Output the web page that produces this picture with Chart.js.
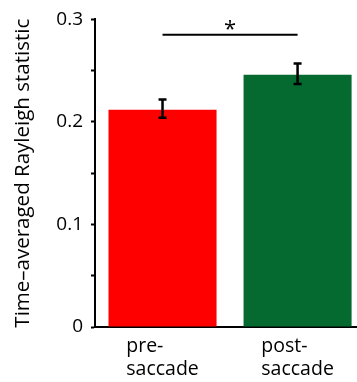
<!DOCTYPE html>
<html>
<head>
<meta charset="utf-8">
<script src="https://cdn.jsdelivr.net/npm/chart.js@4.4.1/dist/chart.umd.min.js"></script>
<style>
  html, body { margin: 0; padding: 0; background: #fff; }
</style>
</head>
<body>
<canvas id="chart" width="357" height="382"></canvas>
<script>
// data
const categories = [['pre-', 'saccade'], ['post-', 'saccade']];
const means = [0.212, 0.246];
const errLow = [0.204, 0.237];
const errHigh = [0.222, 0.257];
const barColors = ['#ff0000', '#046a2f'];
const yTickValues = [0, 0.05, 0.1, 0.15, 0.2, 0.25, 0.3];
const yTickLabels = ['0', '', '0.1', '', '0.2', '', '0.3'];
const sigPair = [0, 1];
const sigLevel = 0.285;
const sigMark = '*';

const FONT = '"Open Sans", sans-serif';
Chart.defaults.font.family = FONT;
Chart.defaults.font.size = 19;
Chart.defaults.color = '#000';

// error bars, significance bracket and the two-line category labels
const extras = {
    id: 'extras',
    afterDatasetsDraw(chart) {
        const ctx = chart.ctx;
        const x = chart.scales.x;
        const y = chart.scales.y;
        ctx.save();
        ctx.strokeStyle = '#000';
        ctx.lineWidth = 2.5;
        means.forEach((m, i) => {
            const px = x.getPixelForValue(i + 1);
            const top = y.getPixelForValue(errHigh[i]);
            const bot = y.getPixelForValue(errLow[i]);
            ctx.beginPath();
            ctx.moveTo(px, top);
            ctx.lineTo(px, bot);
            ctx.moveTo(px - 4, top);
            ctx.lineTo(px + 4, top);
            ctx.moveTo(px - 4, bot);
            ctx.lineTo(px + 4, bot);
            ctx.stroke();
        });

        const x1 = x.getPixelForValue(sigPair[0] + 1);
        const x2 = x.getPixelForValue(sigPair[1] + 1);
        const sy = y.getPixelForValue(sigLevel);
        ctx.lineWidth = 2;
        ctx.beginPath();
        ctx.moveTo(x1, sy);
        ctx.lineTo(x2, sy);
        ctx.stroke();
        ctx.fillStyle = '#000';
        ctx.font = '22px ' + FONT;
        ctx.textAlign = 'center';
        ctx.textBaseline = 'alphabetic';
        ctx.fillText(sigMark, (x1 + x2) / 2, sy + 1);

        ctx.font = '19.5px ' + FONT;
        ctx.textAlign = 'left';
        categories.forEach((lines, i) => {
            const px = x.getPixelForValue(i + 1);
            const w = Math.max(...lines.map(l => ctx.measureText(l).width));
            lines.forEach((l, j) => {
                ctx.fillText(l, px - w / 2, chart.chartArea.bottom + 25 + j * 23);
            });
        });
        ctx.restore();
    }
};

new Chart(document.getElementById('chart'), {
    type: 'bar',
    data: {
        datasets: [{
            data: means.map((v, i) => ({ x: i + 1, y: v })),
            backgroundColor: barColors,
            borderWidth: 0,
            barPercentage: 0.8,
            categoryPercentage: 1
        }]
    },
    options: {
        responsive: false,
        animation: false,
        layout: { padding: { top: 19, right: 0, left: 0, bottom: 0 } },
        plugins: { legend: { display: false }, tooltip: { enabled: false } },
        scales: {
            x: {
                type: 'linear',
                offset: false,
                min: 0.5,
                max: 2.44,
                afterBuildTicks: s => { s.ticks = categories.map((c, i) => ({ value: i + 1 })); },
                afterFit: s => { s.height = 55; },
                ticks: { display: false },
                grid: { display: false },
                border: { color: '#000', width: 2 }
            },
            y: {
                min: 0,
                max: 0.3,
                afterBuildTicks: s => { s.ticks = yTickValues.map(v => ({ value: v })); },
                afterFit: s => { s.width = 95; },
                ticks: {
                    padding: 8,
                    callback: (v, i) => yTickLabels[i]
                },
                grid: {
                    drawOnChartArea: false,
                    drawTicks: true,
                    tickLength: 4,
                    tickWidth: 2,
                    tickColor: '#000'
                },
                border: { color: '#000', width: 2 },
                title: {
                    display: true,
                    text: 'Time–averaged Rayleigh statistic',
                    font: { size: 20.5 },
                    padding: { top: 11, bottom: 0 }
                }
            }
        }
    },
    plugins: [extras]
});
</script>
</body>
</html>
